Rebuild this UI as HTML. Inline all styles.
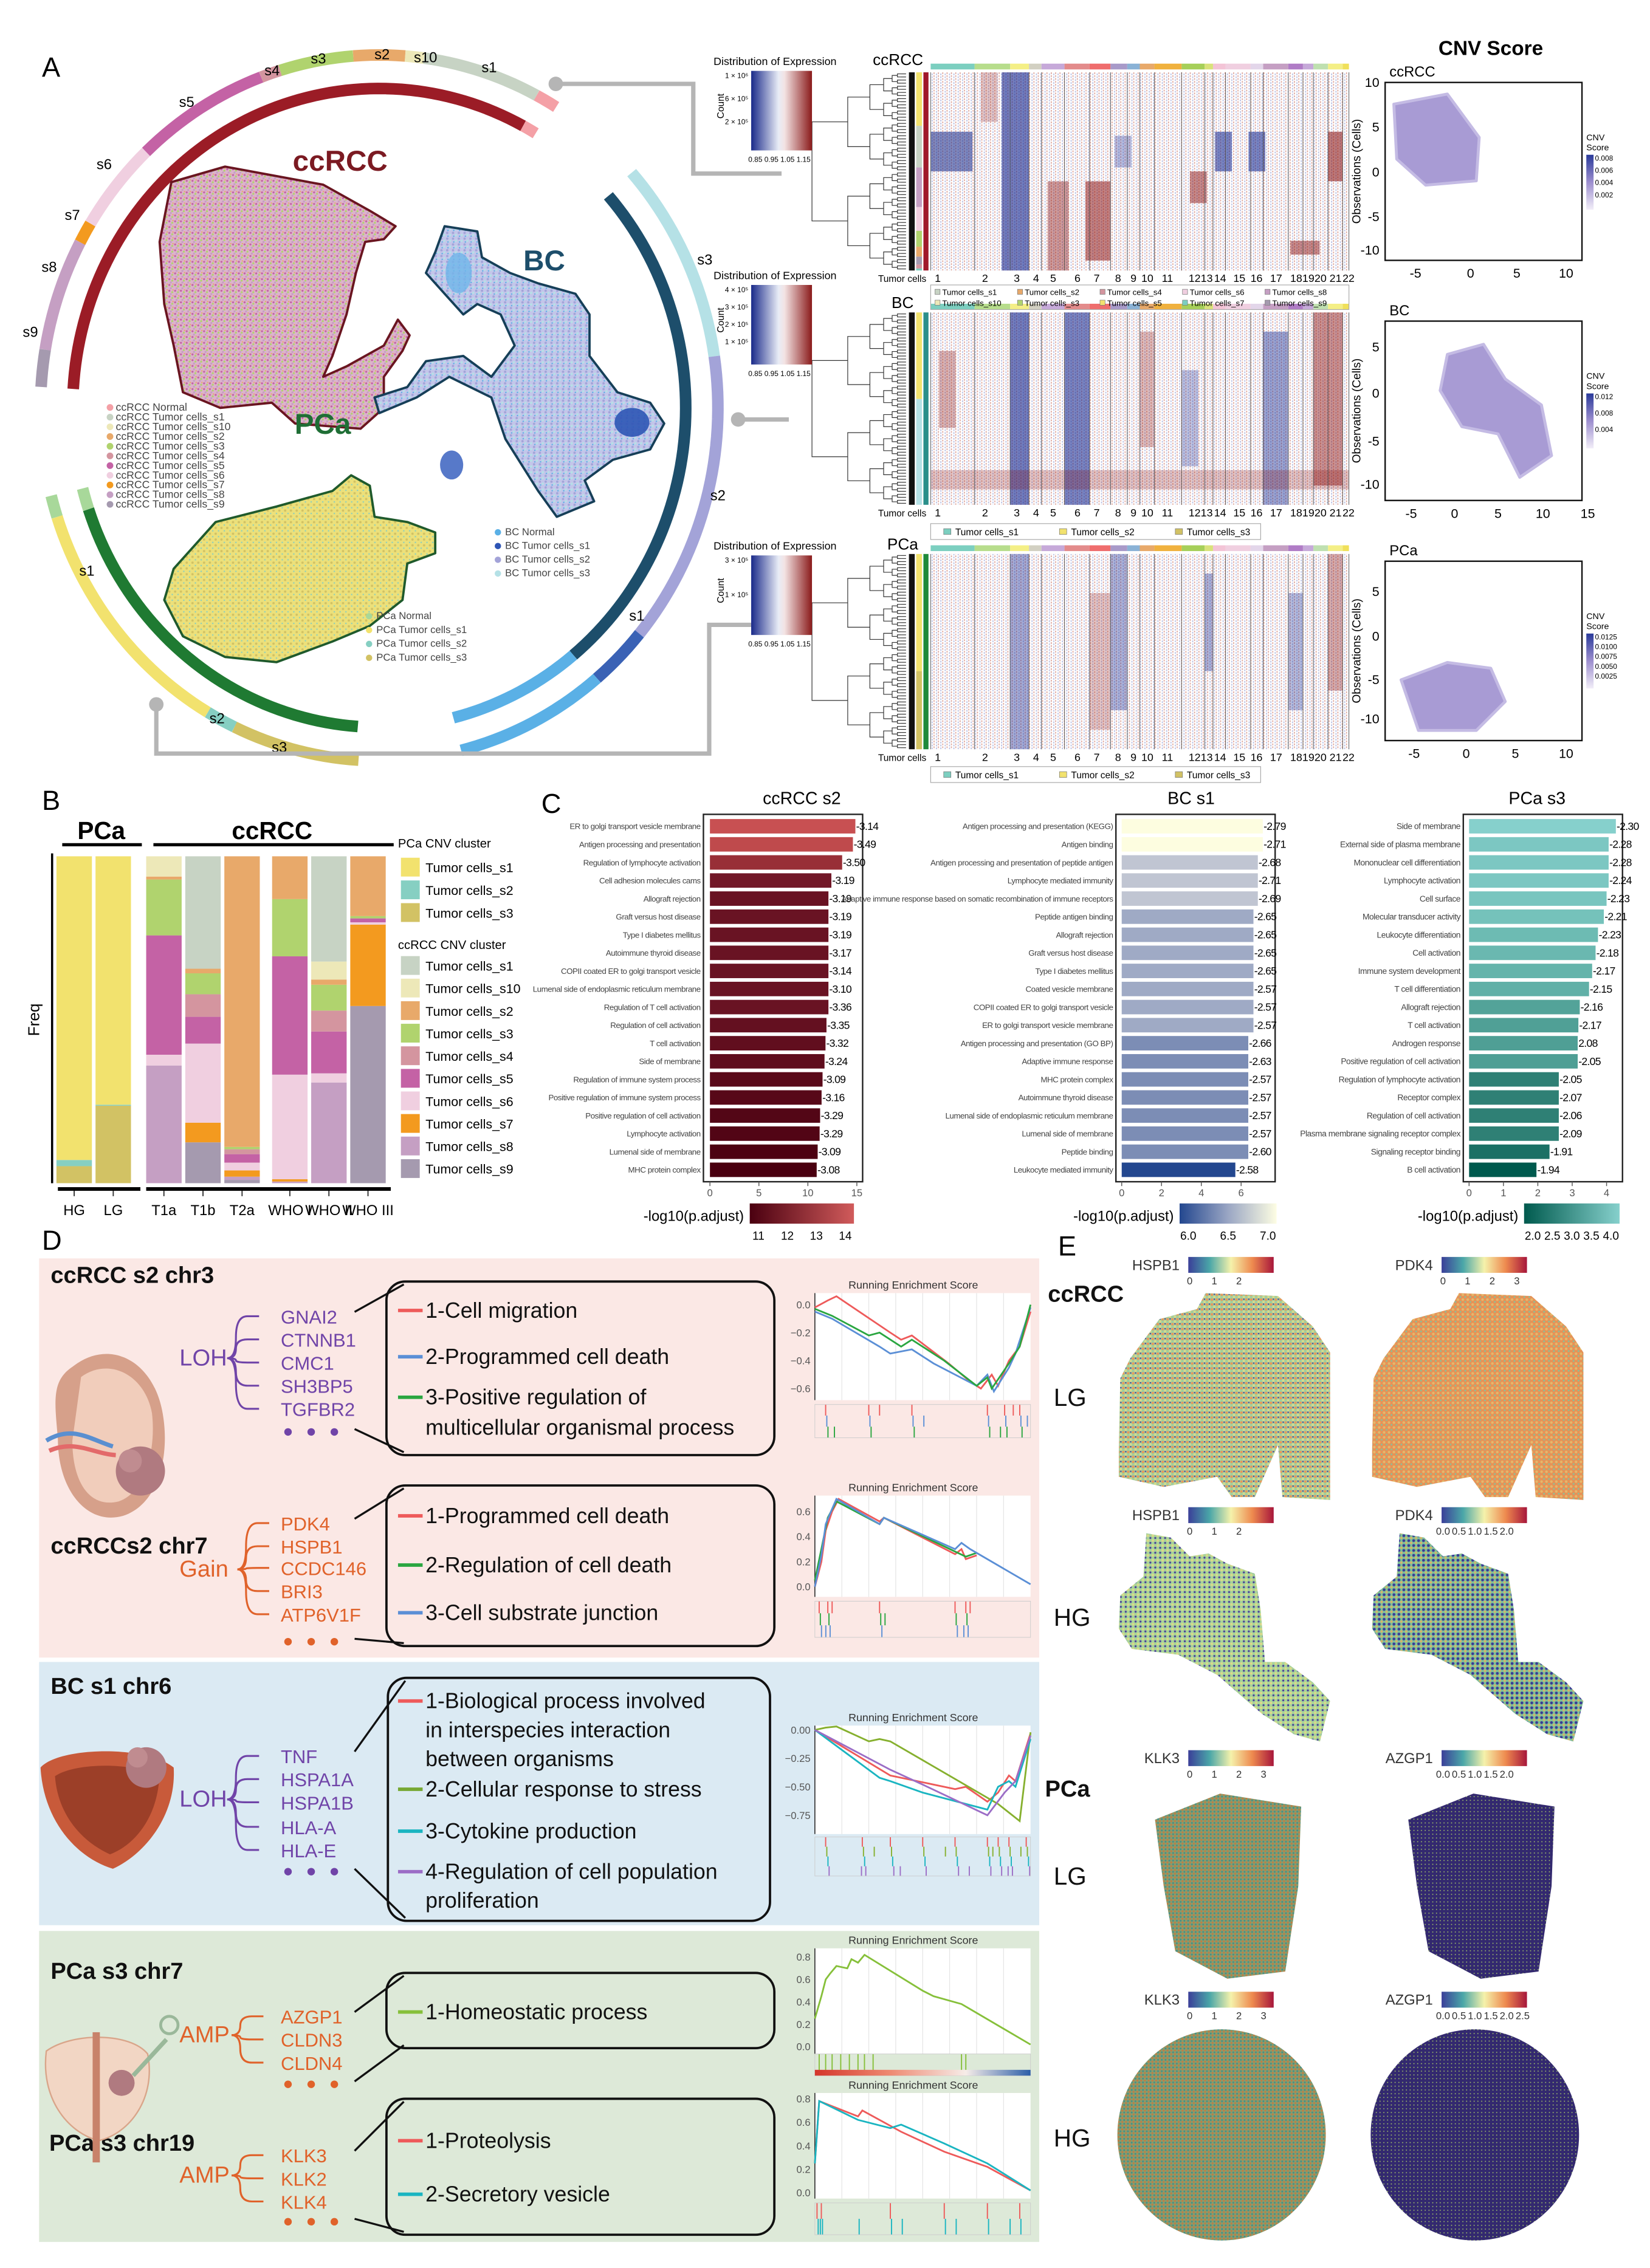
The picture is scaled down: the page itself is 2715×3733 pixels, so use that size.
<!DOCTYPE html>
<html><head><meta charset="utf-8">
<style>
html,body{margin:0;padding:0;background:#fff;}
svg{display:block;font-family:"Liberation Sans",sans-serif;}
</style></head>
<body>
<svg id="fig" width="2715" height="3733" viewBox="0 0 1140 1568" preserveAspectRatio="none" xmlns="http://www.w3.org/2000/svg">
<defs>
<pattern id="ccMix" width="4" height="4" patternUnits="userSpaceOnUse"><rect width="4" height="4" fill="#dcb3cc"/><circle cx="1" cy="1" r="0.7" fill="#c462a5"/><circle cx="3" cy="2" r="0.7" fill="#b0d36e"/><circle cx="2" cy="3.3" r="0.7" fill="#c59fc3"/><circle cx="3.5" cy="0.4" r="0.5" fill="#e8a96a"/></pattern>
<pattern id="bcMix" width="4" height="4" patternUnits="userSpaceOnUse"><rect width="4" height="4" fill="#c3c6ea"/><circle cx="1" cy="1" r="0.8" fill="#a3a3d8"/><circle cx="3" cy="2.5" r="0.8" fill="#b5e1e6"/><circle cx="1.5" cy="3.3" r="0.5" fill="#5ab0e6"/></pattern>
<pattern id="pcaMix" width="4" height="4" patternUnits="userSpaceOnUse"><rect width="4" height="4" fill="#ece07a"/><circle cx="1" cy="1" r="0.8" fill="#d2c264"/><circle cx="3" cy="3" r="0.5" fill="#86cfc2"/></pattern>
<pattern id="speck" width="3" height="2" patternUnits="userSpaceOnUse"><rect width="3" height="2" fill="#fff"/><rect x="0" y="0" width="0.7" height="1.2" fill="#dda59c"/><rect x="1.7" y="0.8" width="0.7" height="1.2" fill="#b6bde2"/></pattern>
<pattern id="spHs" width="3.4" height="3.4" patternUnits="userSpaceOnUse"><rect width="3.4" height="3.4" fill="#9fcf9f"/><circle cx="0.9" cy="0.9" r="0.9" fill="#e8985a"/><circle cx="2.6" cy="2.5" r="0.9" fill="#d9d98a"/><circle cx="2.6" cy="0.6" r="0.5" fill="#4a3f99"/></pattern>
<pattern id="spPd" width="3.4" height="3.4" patternUnits="userSpaceOnUse"><rect width="3.4" height="3.4" fill="#e79257"/><circle cx="0.9" cy="0.9" r="0.9" fill="#e3b96b"/><circle cx="2.6" cy="2.5" r="0.6" fill="#86c29a"/></pattern>
<pattern id="spHsH" width="3.4" height="3.4" patternUnits="userSpaceOnUse"><rect width="3.4" height="3.4" fill="#a6d39a"/><circle cx="0.9" cy="0.9" r="0.9" fill="#dcd98a"/><circle cx="2.6" cy="2.5" r="0.7" fill="#4a3f99"/></pattern>
<pattern id="spPdH" width="3.4" height="3.4" patternUnits="userSpaceOnUse"><rect width="3.4" height="3.4" fill="#7fbf98"/><circle cx="0.9" cy="0.9" r="1" fill="#3b3a96"/><circle cx="2.6" cy="2.5" r="0.8" fill="#d9b56a"/></pattern>
<pattern id="spKl" width="2.6" height="2.6" patternUnits="userSpaceOnUse"><rect width="2.6" height="2.6" fill="#8a9b6a"/><circle cx="0.6" cy="0.6" r="0.6" fill="#c9773e"/><circle cx="1.9" cy="1.9" r="0.6" fill="#3f8e8c"/></pattern>
<pattern id="spAz" width="2.6" height="2.6" patternUnits="userSpaceOnUse"><rect width="2.6" height="2.6" fill="#33296f"/><circle cx="1.9" cy="1.9" r="0.4" fill="#9fbf6a"/></pattern>
<linearGradient id="gDist" x1="0" x2="1"><stop offset="0" stop-color="#1a2a8a"/><stop offset="0.45" stop-color="#e8ecf6"/><stop offset="0.55" stop-color="#f3e3e3"/><stop offset="1" stop-color="#8a1a1a"/></linearGradient>
<linearGradient id="gCnv" x1="0" y1="1" x2="0" y2="0"><stop offset="0" stop-color="#f2eef8"/><stop offset="0.5" stop-color="#9d8fcf"/><stop offset="1" stop-color="#2a3a9a"/></linearGradient>
<linearGradient id="gSpec" x1="0" x2="1"><stop offset="0" stop-color="#3b3f99"/><stop offset="0.25" stop-color="#4aa6a8"/><stop offset="0.5" stop-color="#f5f2ab"/><stop offset="0.75" stop-color="#ee8a4f"/><stop offset="1" stop-color="#a7163b"/></linearGradient>
<linearGradient id="gRed" x1="0" x2="1"><stop offset="0" stop-color="#4a0010"/><stop offset="1" stop-color="#d15b5b"/></linearGradient>
<linearGradient id="gBlue" x1="0" x2="1"><stop offset="0" stop-color="#23478f"/><stop offset="0.5" stop-color="#9aa6c4"/><stop offset="1" stop-color="#fdfde3"/></linearGradient>
<linearGradient id="gTeal" x1="0" x2="1"><stop offset="0" stop-color="#005a4e"/><stop offset="1" stop-color="#86d0cc"/></linearGradient>
<linearGradient id="gRank" x1="0" x2="1"><stop offset="0" stop-color="#d4362b"/><stop offset="0.35" stop-color="#ee8a72"/><stop offset="0.7" stop-color="#f6ece8"/><stop offset="1" stop-color="#2b5ea8"/></linearGradient>
</defs>

<rect x="27" y="870" width="691" height="276" fill="#fbe8e5"/>
<rect x="27" y="1149" width="691" height="182" fill="#dbeaf3"/>
<rect x="27" y="1335" width="691" height="215" fill="#dde9d8"/>

<g font-size="19" fill="#000">
<text x="29" y="53">A</text>
<text x="29" y="560">B</text>
<text x="374" y="562">C</text>
<text x="29" y="864">D</text>
<text x="731" y="868">E</text>
</g>
<text x="1030" y="38" font-size="14" font-weight="bold" text-anchor="middle">CNV Score</text>
</svg>

<script>
const svg=document.getElementById('fig');
const NS='http://www.w3.org/2000/svg';
function E(tag,attrs,parent){const el=document.createElementNS(NS,tag);for(const k in attrs)el.setAttribute(k,attrs[k]);(parent||svg).appendChild(el);return el;}
function T(txt,attrs,parent){const el=E('text',attrs,parent);el.textContent=txt;return el;}

/* ================= PANEL A : circular rings ================= */
const RC={cx:262,cy:282,rx:234,ry:244};
function ringPt(a,r){const t=a*Math.PI/180;return [RC.cx+RC.rx*r*Math.cos(t),RC.cy+RC.ry*r*Math.sin(t)];}
function arcD(a0,a1,r){let d='';const n=Math.max(3,Math.ceil(Math.abs(a1-a0)/1.5));for(let i=0;i<=n;i++){const p=ringPt(a0+(a1-a0)*i/n,r);d+=(i?'L':'M')+p[0].toFixed(2)+','+p[1].toFixed(2);}return d;}
const ringSegNames=['cc-s9','cc-s8','cc-s7','cc-s6','cc-s5','cc-s4','cc-s3','cc-s2','cc-s10','cc-s1','cc-normal','cc-inner','cc-inner-normal','bc-inner','bc-inner-normal','bc-s3','bc-s2','bc-s1','bc-normal','pca-inner-normal','pca-inner','pca-normal','pca-s1','pca-s2','pca-s3'];
const ringSegA0=[183.4,189.5,208,211.5,226.5,249.6,253,265.6,274.4,277.6,297.7,183.4,298,318.4,410.7,318.2,351.6,399.8,410,161.5,94,162,120.4,115.3,93.5];
const ringSegA1=[189.5,208,211.5,226.5,249.6,253,265.6,274.4,277.6,297.7,301.5,298,300.7,410.7,436,351.6,399.8,410,436,165.4,161.5,165.6,162,120.4,115.3];
const ringSegR=[1,1,1,1,1,1,1,1,1,1,1,0.905,0.905,0.905,0.905,1,1,1,1,0.905,0.905,1,1,1,1];
const ringSegCol=['#a59aaf','#c59fc3','#f39a1f','#f0cfe0','#c462a5','#d4959f','#b0d36e','#e8a96a','#ede8b8','#c7d3c4','#f4a0a6','#9b1c26','#f4a0a6','#1d4e6b','#5ab0e6','#b5e1e6','#a3a3d8','#3a62b5','#5ab0e6','#a8d89a','#1f7a32','#a8d89a','#f2e26e','#86cfc2','#d2c264'];
for(let i=0;i<ringSegNames.length;i++){
  const p=E('path',{d:arcD(ringSegA0[i],ringSegA1[i],ringSegR[i]),fill:'none',stroke:ringSegCol[i],'stroke-width':8});
  
  
}
const ringLabTxt=['s9','s8','s7','s6','s5','s4','s3','s2','s10','s1','s3','s2','s1','s1','s2','s3'];
const ringLabPos=[[21,233],[34,188],[50,152],[72,117],[129,74],[188,52],[220,44],[264,41],[294,43],[338,50],[487,183],[496,346],[440,429],[60,398],[150,500],[193,520]];
for(let i=0;i<ringLabTxt.length;i++){
  const t=T(ringLabTxt[i],{x:ringLabPos[i][0],y:ringLabPos[i][1],'font-size':10,'text-anchor':'middle'});
  
  
}
const conn=[['M384,58 L479,58 L479,120 L540,120',[384,58]],['M510,290 L545,290',[510,290]],['M108,487 L108,521 L490,521 L490,432 L545,432',[108,487]]];
conn.forEach((c,i)=>{
  const p=E('path',{d:c[0],fill:'none',stroke:'#b5b5b5','stroke-width':3});
  
  
  const d=E('circle',{cx:c[1][0],cy:c[1][1],r:5,fill:'#b5b5b5'});
  
  
});
function zc(x,y){return [262+(x-820)*0.3228,282+(y-820)*0.3588];}
function polyD(pts){return pts.map((p,i)=>{const q=zc(p[0],p[1]);return (i?'L':'M')+q[0].toFixed(1)+','+q[1].toFixed(1);}).join('')+'Z';}
const ccOutline=[[375,385],[490,355],[700,390],[800,440],[855,470],[830,495],[790,500],[770,560],[750,640],[720,720],[700,760],[750,740],[830,700],[860,650],[885,680],[870,710],[830,760],[830,820],[780,860],[640,850],[590,810],[480,820],[400,790],[380,700],[360,620],[350,500]];
const bcOutline=[[960,470],[1030,480],[1040,530],[1100,560],[1160,580],[1240,600],[1270,640],[1270,720],[1330,790],[1400,810],[1430,850],[1400,900],[1320,920],[1260,960],[1280,1000],[1200,1030],[1160,980],[1090,880],[1060,800],[970,760],[900,800],[820,830],[810,800],[880,780],[920,730],[1000,720],[1060,760],[1110,700],[1080,640],[1030,620],[1000,640],[960,600],[920,560],[940,520]];
const pcaOutline=[[380,1130],[470,1040],[600,1010],[720,980],[760,950],[800,970],[810,1030],[880,1040],[940,1060],[940,1100],[880,1120],[870,1190],[800,1240],[720,1270],[600,1310],[490,1300],[400,1260],[360,1190]];
[['umap-ccrcc-cluster',ccOutline,'url(#ccMix)','#6a1520'],['umap-bc-cluster',bcOutline,'url(#bcMix)','#163f58'],['umap-pca-cluster',pcaOutline,'url(#pcaMix)','#1f5a2c']].forEach(b=>{
  const p=E('path',{d:polyD(b[1]),fill:b[2],stroke:b[3],'stroke-width':1.6,'stroke-linejoin':'round'});
  
  
});
{const q=zc(1330,820);const e=E('ellipse',{cx:q[0]+10,cy:q[1]+10,rx:12,ry:10,fill:'#2e55b5',opacity:0.9});


const q2=zc(975,930);const e2=E('ellipse',{cx:q2[0],cy:q2[1],rx:8,ry:10,fill:'#3a62c0',opacity:0.85});


const q3=zc(990,560);const e3=E('ellipse',{cx:q3[0],cy:q3[1],rx:9,ry:14,fill:'#6fb5ea',opacity:0.8});

}
[['ccRCC',235,118,'#7b1a22'],['BC',376,187,'#1d4e6b'],['PCa',223,300,'#1f6e35']].forEach(l=>{
  const t=T(l[0],{x:l[1],y:l[2],'font-size':20,'font-weight':'bold',fill:l[3],'text-anchor':'middle'});
  
  
});
const ccLegTxt=['ccRCC Normal','ccRCC Tumor cells_s1','ccRCC Tumor cells_s10','ccRCC Tumor cells_s2','ccRCC Tumor cells_s3','ccRCC Tumor cells_s4','ccRCC Tumor cells_s5','ccRCC Tumor cells_s6','ccRCC Tumor cells_s7','ccRCC Tumor cells_s8','ccRCC Tumor cells_s9'];
const ccLegCol=['#f4a0a6','#c7d3c4','#ede8b8','#e8a96a','#b0d36e','#d4959f','#c462a5','#f0cfe0','#f39a1f','#c59fc3','#a59aaf'];
ccLegTxt.forEach((s,i)=>{const y=284+i*6.7;
  const c=E('circle',{cx:76,cy:y-2.3,r:2.3,fill:ccLegCol[i]});
  
  
  const t=T(s,{x:80,y:y,'font-size':7.4,fill:'#444'});
  
  });
const bcLegTxt=['BC Normal','BC Tumor cells_s1','BC Tumor cells_s2','BC Tumor cells_s3'];
const bcLegCol=['#5ab0e6','#2e55b5','#a3a3d8','#b5e1e6'];
bcLegTxt.forEach((s,i)=>{const y=370+i*9.5;
  const c=E('circle',{cx:344,cy:y-2,r:2.2,fill:bcLegCol[i]});
  
  
  const t=T(s,{x:349,y:y,'font-size':7,fill:'#444'});
  
  });
const pcLegTxt=['PCa Normal','PCa Tumor cells_s1','PCa Tumor cells_s2','PCa Tumor cells_s3'];
const pcLegCol=['#a8d89a','#f2e26e','#86cfc2','#d2c264'];
pcLegTxt.forEach((s,i)=>{const y=428+i*9.6;
  const c=E('circle',{cx:255,cy:y-2,r:2.2,fill:pcLegCol[i]});
  
  
  const t=T(s,{x:260,y:y,'font-size':7,fill:'#444'});
  
  });

/* ================= PANEL A : heatmaps ================= */
const chromBounds=[0,0.105,0.19,0.235,0.265,0.32,0.38,0.43,0.47,0.5,0.535,0.6,0.655,0.675,0.705,0.765,0.795,0.855,0.89,0.915,0.95,0.985,1];
const chromLabPos=[0.017,0.13,0.206,0.252,0.293,0.351,0.397,0.448,0.485,0.518,0.566,0.631,0.66,0.692,0.738,0.779,0.826,0.874,0.903,0.932,0.968,0.999];
const chromCol=['#7ccfc0','#b7dd8c','#f4ef86','#d2d0c2','#c6a9d9','#e38b8b','#ef6d6d','#a89ac9','#8ab2d6','#e8a96a','#f0b13e','#a6cf59','#d9e27a','#f3c4d6','#f0cfe0','#e3d6ea','#c59fc3','#b07cc6','#c6a9d9','#bfe0b0','#f4ef86','#f0e05a'];
const hmCcBlocks=[[0.0,0.1,0.3,0.5,'#1a2a8a',0.8],[0.17,0.235,0,1,'#14258f',0.85],[0.28,0.33,0.55,1,'#8a1010',0.6],[0.37,0.43,0.55,0.95,'#8a1010',0.75],[0.68,0.72,0.3,0.5,'#14258f',0.8],[0.76,0.8,0.3,0.5,'#14258f',0.8],[0.95,0.985,0.3,0.55,'#8a1010',0.8],[0.62,0.66,0.5,0.66,'#8a1010',0.7],[0.86,0.93,0.85,0.92,'#8a1010',0.7],[0.44,0.48,0.32,0.48,'#3040a0',0.5],[0.12,0.16,0.0,0.25,'#8a1010',0.35]];
const hmBcBlocks=[[0.19,0.235,0,1,'#14258f',0.85],[0.32,0.38,0,1,'#14258f',0.8],[0.795,0.855,0.1,1,'#14258f',0.6],[0.6,0.64,0.3,0.8,'#14258f',0.4],[0.915,0.985,0,0.9,'#8a1010',0.65],[0,1,0.82,0.92,'#8a1010',0.35],[0.02,0.06,0.2,0.6,'#8a1010',0.45],[0.5,0.535,0.1,0.7,'#8a1010',0.4]];
const hmPcBlocks=[[0.19,0.235,0,1,'#14258f',0.55],[0.43,0.47,0,0.8,'#14258f',0.5],[0.95,0.985,0,0.7,'#8a1010',0.5],[0.38,0.43,0.2,0.9,'#8a1010',0.35],[0.655,0.675,0.1,0.6,'#14258f',0.5],[0.855,0.89,0.2,0.8,'#14258f',0.45]];
function drawHeatmap(name,x0,y0,w,h,blocks,sideCols,sideMain){
  const g=E('g',{});
  
  
  const bg=E('rect',{x:x0,y:y0,width:w,height:h,fill:'url(#speck)'},g);
  
  
  blocks.forEach(b=>{const r=E('rect',{x:x0+b[0]*w,y:y0+b[2]*h,width:(b[1]-b[0])*w,height:(b[3]-b[2])*h,fill:b[4],opacity:b[5]*0.7},g);
    
    });
  chromBounds.forEach(c=>{const l=E('line',{x1:x0+c*w,x2:x0+c*w,y1:y0,y2:y0+h,stroke:'#555','stroke-width':0.4},g);
    
    });
  for(let i=0;i<22;i++){
    const a=E('rect',{x:x0+chromBounds[i]*w,y:y0-6,width:(chromBounds[i+1]-chromBounds[i])*w,height:4,fill:chromCol[i]},g);
    
    
    const t=T(String(i+1),{x:x0+chromLabPos[i]*w,y:y0+h+8,'font-size':7.5,'text-anchor':'middle'},g);
    
    
  }
  const blk=E('rect',{x:x0-15,y:y0,width:4,height:h,fill:'#111'},g);
  
  
  let acc=0;sideCols.forEach(s=>{const r=E('rect',{x:x0-10,y:y0+acc*h,width:4,height:s[1]*h,fill:s[0]},g);acc+=s[1];
    
    });
  const m=E('rect',{x:x0-5,y:y0,width:3.5,height:h,fill:sideMain},g);
  
  
  const tc=T('Tumor cells',{x:x0-3,y:y0+h+8,'font-size':6.5,'text-anchor':'end'},g);
  
  
  const dx0=x0-17,dx1=x0-82;
  function tree(a,b,depth){const mid=(a+b)/2;const xl=dx0-(dx0-dx1)*Math.pow(0.62,depth);
    if(depth>5){const l=E('line',{x1:dx0,x2:xl,y1:mid,y2:mid,stroke:'#333','stroke-width':0.5},g);
      
      return mid;}
    const m1=tree(a,mid,depth+1),m2=tree(mid,b,depth+1);const xc=dx0-(dx0-dx1)*Math.pow(0.62,depth+1);
    const p=E('path',{d:`M${xc},${m1}L${xl},${m1}L${xl},${m2}L${xc},${m2}`,fill:'none',stroke:'#333','stroke-width':0.5},g);
    
    
    return (m1+m2)/2;}
  tree(y0,y0+h,0);
  return g;
}
drawHeatmap('heatmap-ccrcc',643,50,289,137,hmCcBlocks,[['#f2e26e',0.27],['#c7d3c4',0.21],['#c59fc3',0.2],['#f0cfe0',0.12],['#b0d36e',0.08],['#e8a96a',0.05],['#a59aaf',0.04],['#d4959f',0.02],['#7ccfc0',0.01]],'#a0182a');
drawHeatmap('heatmap-bc',643,216,289,133,hmBcBlocks,[['#f2e26e',0.45],['#b5e1e6',0.55]],'#2a8f8a');
drawHeatmap('heatmap-pca',643,383,289,135,hmPcBlocks,[['#f2e26e',0.6],['#d2c264',0.4]],'#1f8a3a');
[['ccRCC',603,45],['BC',616,213],['PCa',613,380]].forEach(l=>{const t=T(l[0],{x:l[1],y:l[2],'font-size':11});
  
  });
const distY=[42,190,377];
const distTicks=[['1 × 10⁶','6 × 10⁵','2 × 10⁵'],['4 × 10⁵','3 × 10⁵','2 × 10⁵','1 × 10⁵'],['3 × 10⁵','1 × 10⁵']];
distY.forEach((y,k)=>{
  const t=T('Distribution of Expression',{x:493,y:y+3,'font-size':7.5});
  
  
  const r=E('rect',{x:519,y:y+7,width:42,height:55,fill:'url(#gDist)'});
  
  
  const c=T('Count',{x:0,y:0,'font-size':6.5,transform:`translate(500,${y+40}) rotate(-90)`});
  
  
  distTicks[k].forEach((s,i)=>{const tt=T(s,{x:517,y:y+12+i*(48/distTicks[k].length),'font-size':5,'text-anchor':'end'});
    
    });
  const a=T('0.85 0.95 1.05 1.15',{x:517,y:y+70,'font-size':5});
  
  
});
const hmLegCc=['Tumor cells_s1','Tumor cells_s2','Tumor cells_s4','Tumor cells_s6','Tumor cells_s8','Tumor cells_s10','Tumor cells_s3','Tumor cells_s5','Tumor cells_s7','Tumor cells_s9'];
const hmLegCcCol=['#c7d3c4','#e8a96a','#d4959f','#f0cfe0','#c59fc3','#ede8b8','#b0d36e','#f2e26e','#7ccfc0','#a59aaf'];
{const r=E('rect',{x:643,y:197,width:289,height:17,fill:'none',stroke:'#aaa','stroke-width':0.5});

}
hmLegCc.forEach((s,i)=>{const x=646+(i%5)*57,y=204+Math.floor(i/5)*7.5;
  const q=E('rect',{x:x,y:y-4,width:3.5,height:3.5,fill:hmLegCcCol[i],stroke:'#777','stroke-width':0.3});
  
  
  const t=T(s,{x:x+5,y:y,'font-size':5.6});
  
  });
const hmLeg3=['Tumor cells_s1','Tumor cells_s2','Tumor cells_s3'];
const hmLeg3Col=['#7ccfc0','#f2e26e','#d2c264'];
[362,530].forEach(y0=>{const r=E('rect',{x:643,y:y0,width:228,height:11,fill:'none',stroke:'#aaa','stroke-width':0.5});
  
  
  hmLeg3.forEach((s,i)=>{const x=652+i*80;
    const q=E('rect',{x:x,y:y0+3.5,width:5,height:4,fill:hmLeg3Col[i],stroke:'#777','stroke-width':0.3});
    
    
    const t=T(s,{x:x+8,y:y0+8,'font-size':6.5});
    
    });});

/* ================= PANEL A : CNV score UMAPs ================= */
const cnvPanels=[{n:'ccrcc',lab:'ccRCC',y0:57,y1:180,yt:['10','5','0','-5','-10'],ytp:[57,88,119,150,173],xt:['-5','0','5','10'],xtp:[978,1016,1048,1082],cb:['0.008','0.006','0.004','0.002'],blob:[[963,72],[1000,65],[1022,95],[1020,125],[985,128],[965,110]]},
 {n:'bc',lab:'BC',y0:222,y1:346,yt:['5','0','-5','-10'],ytp:[240,272,305,335],xt:['-5','0','5','10','15'],xtp:[975,1005,1035,1066,1097],cb:['0.012','0.008','0.004'],blob:[[1000,245],[1025,238],[1040,262],[1065,280],[1072,315],[1050,330],[1035,300],[1010,295],[995,270]]},
 {n:'pca',lab:'PCa',y0:388,y1:512,yt:['5','0','-5','-10'],ytp:[409,440,470,497],xt:['-5','0','5','10'],xtp:[977,1013,1047,1082],cb:['0.0125','0.0100','0.0075','0.0050','0.0025'],blob:[[968,470],[1000,458],[1030,462],[1040,485],[1020,505],[980,505]]}];
cnvPanels.forEach(p=>{
  const g=E('g',{});
  
  
  const r=E('rect',{x:957,y:p.y0,width:136,height:p.y1-p.y0,fill:'#fff',stroke:'#111','stroke-width':1},g);
  
  
  const b=E('path',{d:'M'+p.blob.map(q=>q.join(',')).join('L')+'Z',fill:'#a89bd4',stroke:'#c4bbe4','stroke-width':2,'stroke-linejoin':'round'},g);
  
  
  const l=T(p.lab,{x:960,y:p.y0-4,'font-size':10},g);
  
  
  p.yt.forEach((s,i)=>{const t=T(s,{x:953,y:p.ytp[i]+3,'font-size':9,'text-anchor':'end'},g);
    
    });
  p.xt.forEach((s,i)=>{const t=T(s,{x:p.xtp[i],y:p.y1+12,'font-size':9,'text-anchor':'middle'},g);
    
    });
  const ya=T('Observations (Cells)',{x:0,y:0,'font-size':8,'text-anchor':'middle',transform:`translate(940,${(p.y0+p.y1)/2}) rotate(-90)`},g);
  
  
  const cbt=T('CNV',{x:1096,y:p.y0+40,'font-size':6},g);
  
  
  const cbt2=T('Score',{x:1096,y:p.y0+47,'font-size':6},g);
  
  
  const cb=E('rect',{x:1096,y:p.y0+50,width:5,height:38,fill:'url(#gCnv)'},g);
  
  
  p.cb.forEach((s,i)=>{const t=T(s,{x:1102,y:p.y0+54+i*(34/p.cb.length),'font-size':5},g);
    
    });
});

/* ================= PANEL B : stacked bars ================= */
const bCats=['HG','LG','T1a','T1b','T2a','WHO I','WHO II','WHO III'];
const pcaS3=[0.052,0.237];
const pcaS2=[0.019,0.003];
const pcaS1=[0.929,0.76];
const ccS9=[0,0.125,0.01,0,0,0.542];
const ccS8=[0.36,0,0.01,0.005,0.308,0];
const ccS7=[0,0.06,0.019,0.007,0,0.249];
const ccS6=[0.033,0.242,0.024,0.32,0.028,0.007];
const ccS5=[0.365,0.082,0.026,0.362,0.128,0.012];
const ccS4=[0,0.069,0.015,0,0.064,0];
const ccS3=[0.171,0.064,0.007,0.175,0.079,0.007];
const ccS2=[0.009,0.014,0.891,0.131,0.016,0.183];
const ccS10=[0.062,0,0,0,0.055,0];
const ccS1=[0,0.344,0,0,0.322,0];
function bX(i){return 39+i*27+(i>=2?8:0)+(i>=5?6:0);}
function bY(f){return 818-f*226;}
const bW=24.5;
function stack(i,series,cols,names){const tot=series.reduce((s,a)=>s+a,0);let acc=0;
  series.forEach((v,k)=>{if(v<=0)return;const f0=acc/tot,f1=(acc+v)/tot;acc+=v;
    const r=E('rect',{x:bX(i),y:bY(f1),width:bW,height:bY(f0)-bY(f1),fill:cols[k]});
    
    });}
for(let i=0;i<2;i++)stack(i,[pcaS3[i],pcaS2[i],pcaS1[i]],['#d2c264','#86cfc2','#f2e26e'],['s3','s2','s1']);
for(let j=0;j<6;j++)stack(j+2,[ccS9[j],ccS8[j],ccS7[j],ccS6[j],ccS5[j],ccS4[j],ccS3[j],ccS2[j],ccS10[j],ccS1[j]],['#a59aaf','#c59fc3','#f39a1f','#f0cfe0','#c462a5','#d4959f','#b0d36e','#e8a96a','#ede8b8','#c7d3c4'],['s9','s8','s7','s6','s5','s4','s3','s2','s10','s1']);
bCats.forEach((c,i)=>{const t=T(c,{x:bX(i)+bW/2,y:840,'font-size':10,'text-anchor':'middle'});
  
  
  const tk=E('line',{x1:bX(i)+bW/2,x2:bX(i)+bW/2,y1:822,y2:827,stroke:'#333','stroke-width':0.8});
  
  });
[['M36,590L36,818',1.5],['M40,822L97,822',2.5],['M101,822L270,822',2.5],['M43,584L98,584',2.2],['M106,584L272,584',2.2]].forEach(l=>{
  const p=E('path',{d:l[0],stroke:'#000','stroke-width':l[1]});
  
  });
{const t=T('PCa',{x:70,y:580,'font-size':17,'font-weight':'bold','text-anchor':'middle'});


const t2=T('ccRCC',{x:188,y:580,'font-size':17,'font-weight':'bold','text-anchor':'middle'});


const f=T('Freq',{x:0,y:0,'font-size':11,'text-anchor':'middle',transform:'translate(27,705) rotate(-90)'});

}
const bLegPca=['Tumor cells_s1','Tumor cells_s2','Tumor cells_s3'];
const bLegPcaCol=['#f2e26e','#86cfc2','#d2c264'];
const bLegCc=['Tumor cells_s1','Tumor cells_s10','Tumor cells_s2','Tumor cells_s3','Tumor cells_s4','Tumor cells_s5','Tumor cells_s6','Tumor cells_s7','Tumor cells_s8','Tumor cells_s9'];
const bLegCcCol=['#c7d3c4','#ede8b8','#e8a96a','#b0d36e','#d4959f','#c462a5','#f0cfe0','#f39a1f','#c59fc3','#a59aaf'];
{const t=T('PCa CNV cluster',{x:275,y:586,'font-size':8.5});


const t2=T('ccRCC CNV cluster',{x:275,y:656,'font-size':8.5});

}
bLegPca.forEach((s,i)=>{const y=600+i*15.7;
  const r=E('rect',{x:277,y:y-7,width:13,height:13,fill:bLegPcaCol[i]});
  
  
  const t=T(s,{x:294,y:y+3,'font-size':9});
  
  });
bLegCc.forEach((s,i)=>{const y=668+i*15.6;
  const r=E('rect',{x:277,y:y-7,width:13,height:13,fill:bLegCcCol[i]});
  
  
  const t=T(s,{x:294,y:y+3,'font-size':9});
  
  });

/* ================= PANEL C : enrichment bars ================= */
const ccTerms=['ER to golgi transport vesicle membrane','Antigen processing and presentation','Regulation of lymphocyte activation','Cell adhesion molecules cams','Allograft rejection','Graft versus host disease','Type I diabetes mellitus','Autoimmune thyroid disease','COPII coated ER to golgi transport vesicle','Lumenal side of endoplasmic reticulum membrane','Regulation of T cell activation','Regulation of cell activation','T cell activation','Side of membrane','Regulation of immune system process','Positive regulation of immune system process','Positive regulation of cell activation','Lymphocyte activation','Lumenal side of membrane','MHC protein complex'];
const ccVals=[14.85,14.6,13.5,12.4,12.1,12.1,12.1,12.1,12.1,12.1,12.1,11.9,11.8,11.7,11.5,11.4,11.25,11.2,11.0,10.9];
const ccLabs=['-3.14','-3.49','-3.50','-3.19','-3.19','-3.19','-3.19','-3.17','-3.14','-3.10','-3.36','-3.35','-3.32','-3.24','-3.09','-3.16','-3.29','-3.29','-3.09','-3.08'];
const bcTerms=['Antigen processing and presentation (KEGG)','Antigen binding','Antigen processing and presentation of peptide antigen','Lymphocyte mediated immunity','Adaptive immune response based on somatic recombination of immune receptors','Peptide antigen binding','Allograft rejection','Graft versus host disease','Type I diabetes mellitus','Coated vesicle membrane','COPII coated ER to golgi transport vesicle','ER to golgi transport vesicle membrane','Antigen processing and presentation (GO BP)','Adaptive immune response','MHC protein complex','Autoimmune thyroid disease','Lumenal side of endoplasmic reticulum membrane','Lumenal side of membrane','Peptide binding','Leukocyte mediated immunity'];
const bcVals=[7.09,7.09,6.84,6.84,6.84,6.62,6.62,6.62,6.62,6.62,6.62,6.62,6.36,6.36,6.36,6.36,6.36,6.36,6.36,5.71];
const bcLabs=['-2.79','-2.71','-2.68','-2.71','-2.69','-2.65','-2.65','-2.65','-2.65','-2.57','-2.57','-2.57','-2.66','-2.63','-2.57','-2.57','-2.57','-2.57','-2.60','-2.58'];
const pcTerms=['Side of membrane','External side of plasma membrane','Mononuclear cell differentiation','Lymphocyte activation','Cell surface','Molecular transducer activity','Leukocyte differentiation','Cell activation','Immune system development','T cell differentiation','Allograft rejection','T cell activation','Androgen response','Positive regulation of cell activation','Regulation of lymphocyte activation','Receptor complex','Regulation of cell activation','Plasma membrane signaling receptor complex','Signaling receptor binding','B cell activation'];
const pcVals=[4.27,4.06,4.06,4.06,4.0,3.92,3.75,3.68,3.58,3.49,3.22,3.18,3.16,3.16,2.61,2.61,2.61,2.61,2.34,1.96];
const pcLabs=['-2.30','-2.28','-2.28','-2.24','-2.23','-2.21','-2.23','-2.18','-2.17','-2.15','-2.16','-2.17','2.08','-2.05','-2.05','-2.07','-2.06','-2.09','-1.91','-1.94'];
const ccXTicks=['0','5','10','15'];const ccXTickV=[0,5,10,15];
const bcXTicks=['0','2','4','6'];const bcXTickV=[0,2,4,6];
const pcXTicks=['0','1','2','3','4'];const pcXTickV=[0,1,2,3,4];
const ccCbTicks=['11','12','13','14'];const bcCbTicks=['6.0','6.5','7.0'];const pcCbTicks=['2.0','2.5','3.0','3.5','4.0'];
function lerpCol(stops,t){t=Math.max(0,Math.min(1,t));for(let i=0;i<stops.length-1;i++){const a=stops[i],b=stops[i+1];if(t<=b[0]){const u=(t-a[0])/(b[0]-a[0]);const ca=a[1],cb=b[1];const c=[0,1,2].map(k=>Math.round(ca[k]+(cb[k]-ca[k])*u));return `rgb(${c.join(',')})`;}}const l=stops[stops.length-1][1];return `rgb(${l.join(',')})`;}
function enrichChart(cfg){
  const g=E('g',{});
  
  
  const x=v=>cfg.x0+(v/cfg.vmax)*(cfg.x1-cfg.x0);
  const top=565,bot=815,n=cfg.vals.length,step=(bot-top)/n;
  const y=i=>top+step*i+step/2;
  const box=E('rect',{x:cfg.bx0,y:top-2,width:cfg.bx1-cfg.bx0,height:bot-top+4,fill:'#fff',stroke:'#222','stroke-width':1},g);
  
  
  const vmin=Math.min(...cfg.vals),vmx=Math.max(...cfg.vals);
  cfg.vals.forEach((v,i)=>{
    const r=E('rect',{x:x(0),y:y(i)-step*0.4,width:x(v)-x(0),height:step*0.8,fill:lerpCol(cfg.stops,(v-vmin)/(vmx-vmin))},g);
    
    
    const lb=T(cfg.labs[i],{x:x(v)+0.5,y:y(i)+2.5,'font-size':7.4,'letter-spacing':-0.3},g);
    
    
    const tl=T(cfg.terms[i],{x:cfg.bx0-2,y:y(i)+2,'font-size':cfg.fs,'text-anchor':'end',fill:'#444','letter-spacing':-0.2},g);
    
    
  });
  cfg.ticks.forEach((s,i)=>{const tx=x(cfg.tickV[i]);
    const t=T(s,{x:tx,y:bot+12,'font-size':7,'text-anchor':'middle',fill:'#555'},g);
    
    
    const tk=E('line',{x1:tx,x2:tx,y1:bot+2,y2:bot+5,stroke:'#555','stroke-width':0.6},g);
    
    });
  const tt=T(cfg.title,{x:cfg.tx,y:556,'font-size':12,'text-anchor':'middle'},g);
  
  
  const ll=T('-log10(p.adjust)',{x:cfg.cbx0-4,y:844,'font-size':10,'text-anchor':'end'},g);
  
  
  const cb=E('rect',{x:cfg.cbx0,y:832,width:cfg.cbx1-cfg.cbx0,height:14,fill:cfg.grad},g);
  
  
  cfg.cbTicks.forEach((s,i)=>{const t=T(s,{x:cfg.cbx0+6+i*(cfg.cbx1-cfg.cbx0-12)/(cfg.cbTicks.length-1),y:857,'font-size':8,'text-anchor':'middle'},g);
    
    });
}
enrichChart({name:'enrichment-ccrcc-s2',title:'ccRCC s2',tx:554,terms:ccTerms,vals:ccVals,labs:ccLabs,bx0:486,bx1:596,x0:490.5,x1:592,vmax:15,ticks:ccXTicks,tickV:ccXTickV,stops:[[0,[74,0,16]],[0.35,[110,22,38]],[0.75,[165,55,60]],[1,[200,80,82]]],grad:'url(#gRed)',cbx0:518,cbx1:590,cbTicks:ccCbTicks,fs:5.6});
enrichChart({name:'enrichment-bc-s1',title:'BC s1',tx:823,terms:bcTerms,vals:bcVals,labs:bcLabs,bx0:771,bx1:881,x0:775,x1:857.5,vmax:6,ticks:bcXTicks,tickV:bcXTickV,stops:[[0,[35,71,143]],[0.47,[124,141,181]],[0.7,[166,176,200]],[0.95,[220,220,220]],[1,[253,253,224]]],grad:'url(#gBlue)',cbx0:815,cbx1:882,cbTicks:bcCbTicks,fs:5.6});
enrichChart({name:'enrichment-pca-s3',title:'PCa s3',tx:1062,terms:pcTerms,vals:pcVals,labs:pcLabs,bx0:1011,bx1:1121,x0:1015,x1:1110,vmax:4,ticks:pcXTicks,tickV:pcXTickV,stops:[[0,[0,90,78]],[0.3,[50,130,120]],[0.6,[90,170,160]],[1,[134,208,204]]],grad:'url(#gTeal)',cbx0:1053,cbx1:1119,cbTicks:pcCbTicks,fs:5.8});

/* ================= PANEL D ================= */
function txt(s,x,y,size,col,name,extra){const t=T(s,Object.assign({x:x,y:y,'font-size':size,fill:col},extra||{}));
  
  return t;}
txt('ccRCC s2 chr3',35,887,16,'#111','section-title',{'font-weight':'bold'});
txt('ccRCCs2 chr7',35,1074,16,'#111','section-title',{'font-weight':'bold'});
txt('BC s1 chr6',35,1171,16,'#111','section-title',{'font-weight':'bold'});
txt('PCa s3 chr7',35,1368,16,'#111','section-title',{'font-weight':'bold'});
txt('PCa s3 chr19',34,1487,16,'#111','section-title',{'font-weight':'bold'});
const dGroups=[
 {ev:'LOH',evx:124,evy:944,col:'#7044a8',genes:['GNAI2','CTNNB1','CMC1','SH3BP5','TGFBR2'],gy:[915,931,947,963,979],dot:990,box:[267,886,268,120],
  items:['1-Cell migration','2-Programmed cell death','3-Positive regulation of','multicellular organismal process'],iy:[911,943,971,992],ic:['#ee5a5a','#5b8fd6','#2aa640',null]},
 {ev:'Gain',evx:124,evy:1090,col:'#e0622a',genes:['PDK4','HSPB1','CCDC146','BRI3','ATP6V1F'],gy:[1058,1074,1089,1105,1121],dot:1135,box:[267,1027,268,111],
  items:['1-Programmed cell death','2-Regulation of cell death','3-Cell substrate junction'],iy:[1053,1087,1120],ic:['#ee5a5a','#2aa640','#5b8fd6']},
 {ev:'LOH',evx:124,evy:1249,col:'#7044a8',genes:['TNF','HSPA1A','HSPA1B','HLA-A','HLA-E'],gy:[1219,1235,1251,1268,1284],dot:1294,box:[268,1160,264,168],
  items:['1-Biological process involved','in interspecies interaction','between organisms','2-Cellular response to stress','3-Cytokine production','4-Regulation of cell population','proliferation'],iy:[1181,1201,1221,1242,1271,1299,1319],ic:['#ee5a5a',null,null,'#76a832','#1ab5c1','#9b6dc6',null]},
 {ev:'AMP',evx:124,evy:1412,col:'#e0622a',genes:['AZGP1','CLDN3','CLDN4'],gy:[1399,1415,1431],dot:1441,box:[267,1364,268,52],
  items:['1-Homeostatic process'],iy:[1396],ic:['#86c03a']},
 {ev:'AMP',evx:124,evy:1509,col:'#e0622a',genes:['KLK3','KLK2','KLK4'],gy:[1495,1511,1527],dot:1536,box:[267,1451,268,94],
  items:['1-Proteolysis','2-Secretory vesicle'],iy:[1485,1522],ic:['#ee5a5a','#1ab5c1']}];
dGroups.forEach((g,gi)=>{
  txt(g.ev,g.evx,g.evy,16,g.col,'alteration-type');
  const fx=g.evx+(g.ev==='Gain'?40:(g.ev==='AMP'?36:33));
  const ym=g.evy-5;
  g.genes.forEach((s,i)=>{txt(s,194,g.gy[i],13,g.col,'gene-label');
    const p=E('path',{d:`M${fx},${ym} Q${fx+6},${ym} ${fx+6},${(ym+g.gy[i]-5)/2} T${fx+14},${g.gy[i]-5} L${fx+22},${g.gy[i]-5}`,fill:'none',stroke:g.col,'stroke-width':1.3});
    
    });
  [199,215,231].forEach(x=>{const c=E('circle',{cx:x,cy:g.dot,r:2.6,fill:g.col});
    
    });
  const b=g.box;
  const r=E('rect',{x:b[0],y:b[1],width:b[2],height:b[3],rx:13,fill:'none',stroke:'#111','stroke-width':1.6});
  
  
  const l1=E('path',{d:`M245,${g.gy[0]-8} L${b[0]+12},${b[1]+2} M245,${g.dot-2} L${b[0]+12},${b[1]+b[3]-2}`,fill:'none',stroke:'#111','stroke-width':1.4});
  
  
  g.items.forEach((s,i)=>{txt(s,294,g.iy[i],15,'#111','enriched-term');
    if(g.ic[i]){const d=E('line',{x1:275,x2:292,y1:g.iy[i]-5,y2:g.iy[i]-5,stroke:g.ic[i],'stroke-width':2.4});
      
      }});
});
function organ(name,shapes){const g=E('g',{});
  shapes.forEach(s=>{const el=E(s[0],s[1],g);});}
organ('kidney-illustration',[['path',{d:'M50,945 C75,925 105,940 112,975 C118,1005 110,1040 85,1048 C60,1055 40,1030 40,995 C38,970 35,955 50,945Z',fill:'#d6a08a'}],['path',{d:'M56,952 C75,938 100,950 105,977 C108,1003 100,1032 82,1038 C62,1043 50,1025 50,996 Z',fill:'#f1cdbb'}],['path',{d:'M32,996 C50,985 62,995 78,1000',fill:'none',stroke:'#5a8fd0','stroke-width':3}],['path',{d:'M34,1003 C52,995 64,1005 80,1006',fill:'none',stroke:'#e36a6a','stroke-width':3}],['circle',{cx:97,cy:1017,r:17,fill:'#b07a80'}],['circle',{cx:90,cy:1010,r:8,fill:'#c08c90'}]]);
organ('bladder-illustration',[['path',{d:'M28,1222 C40,1208 100,1206 120,1222 C122,1255 100,1282 78,1292 C52,1284 30,1258 28,1222Z',fill:'#c85a3a'}],['path',{d:'M38,1228 C52,1218 98,1218 110,1230 C108,1258 92,1276 76,1282 C58,1274 40,1256 38,1228Z',fill:'#9c3f28'}],['circle',{cx:101,cy:1222,r:14,fill:'#b07a80'}],['circle',{cx:95,cy:1215,r:7,fill:'#c08c90'}]]);
organ('prostate-illustration',[['path',{d:'M32,1418 C50,1405 90,1405 102,1420 C108,1450 90,1475 68,1480 C46,1474 28,1450 32,1418Z',fill:'#f2d6c4',stroke:'#d9a58a','stroke-width':1}],['rect',{x:64,y:1405,width:5,height:90,fill:'#c8826a'}],['circle',{cx:84,cy:1440,r:9,fill:'#b07a80'}],['line',{x1:92,y1:1435,x2:115,y2:1410,stroke:'#9ab89a','stroke-width':3}],['circle',{cx:117,cy:1400,r:6,fill:'none',stroke:'#9ab89a','stroke-width':2}]]);
const gsea1Red=[[0,-0.02],[0.06,0.03],[0.1,0.06],[0.35,-0.2],[0.4,-0.25],[0.45,-0.22],[0.62,-0.42],[0.72,-0.55],[0.77,-0.6],[0.82,-0.5],[0.85,-0.58],[0.9,-0.4],[0.95,-0.3],[1,-0.05]];
const gsea1Blue=[[0,-0.05],[0.08,-0.1],[0.3,-0.3],[0.35,-0.35],[0.45,-0.32],[0.55,-0.42],[0.75,-0.58],[0.8,-0.5],[0.83,-0.62],[0.9,-0.45],[0.93,-0.35],[1,-0.02]];
const gsea1Green=[[0,-0.03],[0.08,-0.08],[0.25,-0.22],[0.3,-0.2],[0.4,-0.3],[0.45,-0.25],[0.6,-0.4],[0.75,-0.58],[0.8,-0.52],[0.82,-0.6],[0.9,-0.42],[0.95,-0.3],[1,0]];
const gsea2Red=[[0,0],[0.03,0.2],[0.05,0.45],[0.08,0.6],[0.11,0.7],[0.3,0.52],[0.32,0.55],[0.65,0.26],[0.68,0.3],[0.7,0.22],[0.75,0.25]];
const gsea2Green=[[0,0.05],[0.03,0.3],[0.06,0.55],[0.1,0.68],[0.3,0.5],[0.32,0.55],[0.65,0.28],[0.7,0.24],[0.75,0.27]];
const gsea2Blue=[[0,0],[0.03,0.25],[0.05,0.5],[0.08,0.62],[0.1,0.7],[0.3,0.5],[0.32,0.55],[0.65,0.3],[0.68,0.35],[0.72,0.3],[1,0.02]];
const gsea3Red=[[0,0],[0.35,-0.4],[0.65,-0.52],[0.7,-0.5],[0.8,-0.63],[0.85,-0.55],[0.9,-0.4],[0.93,-0.45],[1,-0.03]];
const gsea3Olive=[[0,0],[0.05,0.02],[0.1,0.03],[0.25,-0.1],[0.3,-0.08],[0.35,-0.1],[0.85,-0.65],[0.95,-0.8],[1,-0.02]];
const gsea3Cyan=[[0,0],[0.3,-0.42],[0.35,-0.45],[0.5,-0.55],[0.8,-0.7],[0.85,-0.5],[0.9,-0.45],[0.93,-0.5],[1,-0.08]];
const gsea3Purple=[[0,0],[0.35,-0.35],[0.5,-0.48],[0.8,-0.75],[0.88,-0.55],[0.93,-0.45],[1,-0.05]];
const gsea4Green=[[0,0.25],[0.03,0.45],[0.05,0.6],[0.07,0.65],[0.1,0.72],[0.15,0.7],[0.17,0.78],[0.2,0.75],[0.23,0.82],[0.5,0.5],[0.55,0.45],[0.68,0.38],[1,0.02]];
const gsea5Red=[[0,0.25],[0.02,0.78],[0.2,0.65],[0.22,0.7],[0.4,0.52],[0.6,0.35],[0.8,0.22],[1,0.02]];
const gsea5Cyan=[[0,0.25],[0.02,0.78],[0.2,0.62],[0.35,0.55],[0.4,0.58],[0.6,0.42],[0.8,0.25],[1,0.02]];
const rug1=[0.05,0.08,0.25,0.3,0.45,0.5,0.8,0.85,0.88,0.92,0.95,0.98];
const rug2=[0.02,0.04,0.06,0.08,0.3,0.32,0.65,0.68,0.7,0.72];
const rug3=[0.05,0.2,0.22,0.27,0.35,0.38,0.5,0.6,0.65,0.7,0.8,0.82,0.85,0.88,0.9,0.95,0.98];
const rug4=[0.02,0.05,0.08,0.12,0.16,0.2,0.23,0.27,0.68,0.7];
const rug5=[0.01,0.02,0.03,0.2,0.35,0.4,0.6,0.65,0.8,0.9,0.95];
const gseaTicks1=[0,-0.2,-0.4,-0.6],gseaTicks2=[0,0.2,0.4,0.6],gseaTicks3=[0,-0.25,-0.5,-0.75],gseaTicks4=[0,0.2,0.4,0.6,0.8];
function gsea(cfg){
  const g=E('g',{});
  
  
  const x=v=>563+v*149;
  const y=v=>cfg.y0-(v-cfg.v0)*cfg.k;
  const bg=E('rect',{x:563,y:cfg.top,width:149,height:cfg.bot-cfg.top,fill:'#fff'},g);
  
  
  for(let i=1;i<8;i++){const l=E('line',{x1:563+i*149/8,x2:563+i*149/8,y1:cfg.top,y2:cfg.bot,stroke:'#e4e4e4','stroke-width':0.5},g);
    
    }
  const ax=E('line',{x1:563,x2:563,y1:cfg.top,y2:cfg.bot,stroke:'#333','stroke-width':0.7},g);
  
  
  cfg.ticks.forEach(v=>{const t=T(v===0?(cfg.dec===2?'0.00':'0.0'):v.toFixed(cfg.dec).replace('-','−'),{x:560,y:y(v)+2.5,'font-size':7,'text-anchor':'end',fill:'#555'},g);
    
    });
  const tt=T('Running Enrichment Score',{x:631,y:cfg.top-3,'font-size':7.5,'text-anchor':'middle',fill:'#333'},g);
  
  
  cfg.series.forEach((s,si)=>{
    const p=E('polyline',{points:s.d.map(q=>x(q[0]).toFixed(1)+','+y(q[1]).toFixed(1)).join(' '),fill:'none',stroke:s.c,'stroke-width':1.2},g);
    
    
    cfg.rug.forEach((r,ri)=>{if((ri+si)%cfg.series.length!==0&&cfg.series.length>1&&ri%2)return;
      const l=E('line',{x1:x(r)+si*0.8,x2:x(r)+si*0.8,y1:cfg.rt+si*(cfg.rb-cfg.rt)/cfg.series.length,y2:cfg.rt+(si+1)*(cfg.rb-cfg.rt)/cfg.series.length,stroke:s.c,'stroke-width':0.8},g);
      
      });
  });
  const rb=E('rect',{x:563,y:cfg.rt,width:149,height:cfg.rb-cfg.rt,fill:'none',stroke:'#ccc','stroke-width':0.4},g);
  
  
  if(cfg.rank){const rr=E('rect',{x:563,y:cfg.rb-4,width:149,height:4,fill:'url(#gRank)'},g);
    
    }
}
gsea({name:'gsea-ccrcc-chr3',top:894,bot:968,y0:902,v0:0,k:96.7,ticks:gseaTicks1,dec:1,rt:971,rb:994,rug:rug1,series:[{d:gsea1Red,c:'#ee5a5a'},{d:gsea1Blue,c:'#5b8fd6'},{d:gsea1Green,c:'#2aa640'}]});
gsea({name:'gsea-ccrcc-chr7',top:1034,bot:1104,y0:1097,v0:0,k:86.7,ticks:gseaTicks2,dec:1,rt:1107,rb:1132,rug:rug2,series:[{d:gsea2Red,c:'#ee5a5a'},{d:gsea2Green,c:'#2aa640'},{d:gsea2Blue,c:'#5b8fd6'}]});
gsea({name:'gsea-bc-chr6',top:1193,bot:1268,y0:1196,v0:0,k:78.7,ticks:gseaTicks3,dec:2,rt:1270,rb:1297,rug:rug3,series:[{d:gsea3Red,c:'#ee5a5a'},{d:gsea3Olive,c:'#86b02e'},{d:gsea3Cyan,c:'#1ab5c1'},{d:gsea3Purple,c:'#9b6dc6'}]});
gsea({name:'gsea-pca-chr7',top:1347,bot:1420,y0:1415,v0:0,k:77.5,ticks:gseaTicks4,dec:1,rt:1420,rb:1435,rug:rug4,rank:true,series:[{d:gsea4Green,c:'#86c03a'}]});
gsea({name:'gsea-pca-chr19',top:1447,bot:1520,y0:1516,v0:0,k:81.25,ticks:gseaTicks4,dec:1,rt:1523,rb:1545,rug:rug5,series:[{d:gsea5Red,c:'#ee5a5a'},{d:gsea5Cyan,c:'#1ab5c1'}]});

/* ================= PANEL E : spatial ================= */
txt('ccRCC',724,900,16,'#111','cancer-type-label',{'font-weight':'bold'});
txt('PCa',722,1242,16,'#111','cancer-type-label',{'font-weight':'bold'});
[['LG',728,972],['HG',728,1124],['LG',728,1303],['HG',728,1484]].forEach(l=>txt(l[0],l[1],l[2],17,'#111','grade-label'));
const spHeads=[['HSPB1',817,869,['0','1','2']],['PDK4',992,869,['0','1','2','3']],['HSPB1',817,1042,['0','1','2']],['PDK4',992,1042,['0.0','0.5','1.0','1.5','2.0']],['KLK3',817,1210,['0','1','2','3']],['AZGP1',992,1210,['0.0','0.5','1.0','1.5','2.0']],['KLK3',817,1377,['0','1','2','3']],['AZGP1',992,1377,['0.0','0.5','1.0','1.5','2.0','2.5']]];
spHeads.forEach(h=>{txt(h[0],h[1]-2,h[2]+9,10,'#333','gene-colorbar-title',{'text-anchor':'end'});
  const r=E('rect',{x:h[1]+4,y:h[2],width:59,height:11,fill:'url(#gSpec)'});
  
  
  h[3].forEach((s,i)=>txt(s,h[1]+5+i*(h[3].length>4?11:17),h[2]+19,7,'#333','colorbar-tick',{'text-anchor':'middle'}));});
const ccLG=[[773,1003],[774,953],[781,939],[801,912],[827,905],[833,894],[883,896],[907,917],[919,935],[919,1037],[886,1035],[883,999],[867,1035],[851,1035],[841,1021],[804,1028],[773,1021]];
const ccHG=[[773,1126],[774,1103],[790,1090],[792,1060],[809,1063],[822,1076],[835,1074],[848,1081],[867,1088],[871,1113],[874,1149],[888,1149],[907,1163],[919,1176],[912,1204],[894,1199],[872,1185],[841,1158],[814,1144],[782,1140]];
const pcLG=[[798,1258],[843,1240],[899,1249],[897,1304],[888,1363],[848,1368],[812,1349],[804,1304]];
function tissue(name,pts,dx,fill){const p=E('path',{d:'M'+pts.map(q=>(q[0]+dx)+','+q[1]).join('L')+'Z',fill:fill});
  
  }
tissue('spatial-hspb1-ccrcc-lg',ccLG,0,'url(#spHs)');
tissue('spatial-pdk4-ccrcc-lg',ccLG,175,'url(#spPd)');
tissue('spatial-hspb1-ccrcc-hg',ccHG,0,'url(#spHsH)');
tissue('spatial-pdk4-ccrcc-hg',ccHG,175,'url(#spPdH)');
tissue('spatial-klk3-pca-lg',pcLG,0,'url(#spKl)');
tissue('spatial-azgp1-pca-lg',pcLG,175,'url(#spAz)');
[['spatial-klk3-pca-hg',844,'url(#spKl)'],['spatial-azgp1-pca-hg',1019,'url(#spAz)']].forEach(c=>{
  const e=E('ellipse',{cx:c[1],cy:1476,rx:72,ry:73,fill:c[2]});
  
  });
</script>
</body></html>
